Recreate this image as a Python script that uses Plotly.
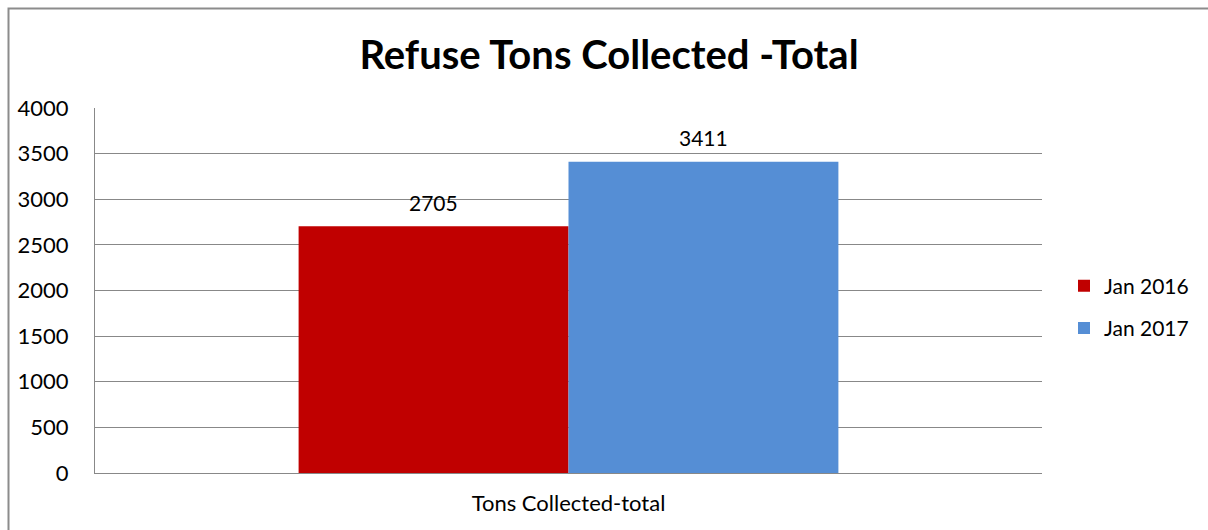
import plotly.graph_objects as go

categories = ["Tons Collected-total"]
series_names = ["Jan 2016", "Jan 2017"]
series_values = [[2705], [3411]]
series_colors = ["#C00000", "#558ED5"]
y_ticks = [0, 500, 1000, 1500, 2000, 2500, 3000, 3500, 4000]

FONT = "Lato, 'Open Sans', sans-serif"

fig = go.Figure()
for i, (name, vals, col) in enumerate(zip(series_names, series_values, series_colors)):
    fig.add_trace(go.Bar(
        x=categories, y=vals, name=name, marker=dict(color=col, line=dict(width=0)),
        legendgroup=name,
        text=[str(v) for v in vals], textposition="none",
    ))

annotations = []
offsets = [-135, 135]
for vals, xs in zip(series_values, offsets):
    for c, v in zip(categories, vals):
        annotations.append(dict(
            x=c, y=v, xref="x", yref="y", text=str(v), showarrow=False,
            xshift=xs, yshift=24, yanchor="middle",
            font=dict(family=FONT, size=21, color="#000000"),
        ))

fig.update_layout(
    width=1208, height=530,
    margin=dict(l=95, r=166, t=108, b=57, autoexpand=False),
    paper_bgcolor="white", plot_bgcolor="white",
    barmode="group", bargap=0.43, bargroupgap=0,
    title=dict(text="<b>Refuse Tons Collected -Total</b>", x=609 / 1208, xanchor="center",
               y=1 - 55 / 530, yanchor="middle",
               font=dict(family=FONT, size=40, color="#000000")),
    font=dict(family=FONT, size=21, color="#000000"),
    showlegend=True,
    legend=dict(x=(1064 - 95) / 947, xanchor="left", y=(473 - 307) / 365, yanchor="middle",
                traceorder="grouped", tracegroupgap=12,
                font=dict(family=FONT, size=21, color="#000000"),
                bgcolor="rgba(0,0,0,0)"),
    annotations=annotations,
    shapes=[dict(type="rect", xref="paper", yref="paper",
                 x0=(8.5 - 95) / 947, x1=(1220 - 95) / 947,
                 y0=(473 - 545) / 365, y1=(473 - 8.5) / 365,
                 line=dict(color="#8c8c8c", width=2), fillcolor="rgba(0,0,0,0)", layer="below")],
)
fig.update_yaxes(range=[0, 4000], tickvals=y_ticks, showgrid=True, gridcolor="#888888", gridwidth=1,
                 showline=True, linecolor="#888888", linewidth=1, ticks="", ticklabelstandoff=21,
                 tickfont=dict(family=FONT, size=22, color="#000000"), zeroline=False, automargin=False)
fig.update_xaxes(showline=True, linecolor="#888888", linewidth=1, ticks="", ticklabelstandoff=11,
                 tickfont=dict(family=FONT, size=22, color="#000000"), mirror=False, automargin=False)

fig.write_html("out.html")
